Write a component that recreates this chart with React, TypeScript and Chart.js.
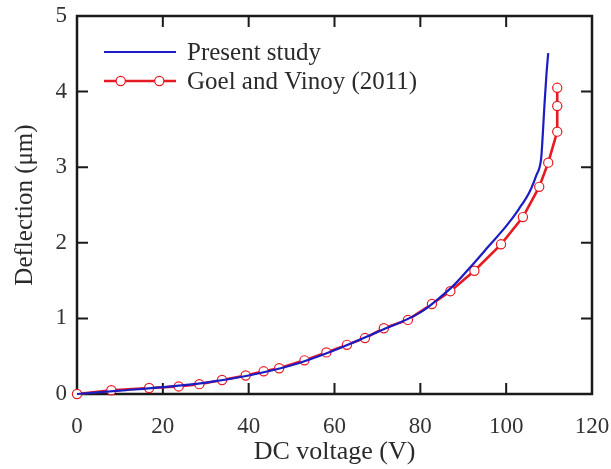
import { useEffect, useRef } from "react";
import { Chart, registerables } from "chart.js";

Chart.register(...registerables);

// Axis ticks
const voltageTicks = [0, 20, 40, 60, 80, 100, 120];
const deflectionTicks = [0, 1, 2, 3, 4, 5];

// Present study (continuous curve)
const presentVoltage = [0, 10, 20, 30, 40, 50, 60, 70, 80, 84, 88, 92, 96, 100, 103, 105.5, 107, 108.1, 108.3, 108.9, 109.4, 109.8];
const presentDeflection = [0, 0.045, 0.09, 0.15, 0.245, 0.38, 0.58, 0.82, 1.08, 1.25, 1.45, 1.7, 1.96, 2.22, 2.45, 2.68, 2.89, 3.09, 3.22, 3.8, 4.24, 4.51];

// Goel and Vinoy (2011) (markers)
const goelVoltage = [0, 8, 16.8, 23.7, 28.5, 33.8, 39.3, 43.5, 47.1, 53, 58.1, 62.9, 67.1, 71.5, 77.1, 82.7, 87, 92.6, 98.8, 103.9, 107.7, 109.8, 111.9, 111.9, 111.9];
const goelDeflection = [0, 0.05, 0.08, 0.1, 0.13, 0.185, 0.245, 0.3, 0.34, 0.445, 0.55, 0.65, 0.74, 0.87, 0.98, 1.19, 1.36, 1.63, 1.98, 2.34, 2.74, 3.06, 3.47, 3.81, 4.05];

const seriesLabels = ["Present study", "Goel and Vinoy (2011)"];
const xTitle = "DC voltage (V)";
const yTitle = "Deflection (μm)";

const SERIF = "'Liberation Serif', 'Times New Roman', serif";
const BLUE = "#1c1cc4";
const RED = "#e61a22";
const INK = "#2a2a2a";

const toPoints = (xs: number[], ys: number[]) => xs.map((v, i) => ({ x: v, y: ys[i] }));

// Box frame with inward tick marks on all four sides
const framePlugin = {
  id: "frameTicks",
  beforeDatasetsDraw(chart: any) {
    const { ctx, chartArea, scales } = chart;
    const { left, right, top, bottom } = chartArea;
    const len = 11;
    ctx.save();
    ctx.strokeStyle = "#1a1a1a";
    ctx.lineWidth = 2;
    ctx.beginPath();
    for (const v of voltageTicks) {
      const px = scales.x.getPixelForValue(v);
      if (Math.abs(px - left) < 2 || Math.abs(px - right) < 2) continue;
      ctx.moveTo(px, bottom);
      ctx.lineTo(px, bottom - len);
      ctx.moveTo(px, top);
      ctx.lineTo(px, top + len);
    }
    for (const v of deflectionTicks) {
      const py = scales.y.getPixelForValue(v);
      if (Math.abs(py - top) < 2 || Math.abs(py - bottom) < 2) continue;
      ctx.moveTo(left, py);
      ctx.lineTo(left + len, py);
      ctx.moveTo(right, py);
      ctx.lineTo(right - len, py);
    }
    ctx.stroke();
    ctx.lineWidth = 2.5;
    ctx.strokeRect(left, top, right - left, bottom - top);
    ctx.restore();
  },
};

// Legend: line sample (with two markers for the marker series) and label
const legendPlugin = {
  id: "lineLegend",
  afterDraw(chart: any) {
    const { ctx } = chart;
    const x0 = 104;
    const x1 = 176;
    const rows = [
      { y: 52, color: BLUE, markers: false, width: 2.2, text: seriesLabels[0] },
      { y: 81, color: RED, markers: true, width: 2.6, text: seriesLabels[1] },
    ];
    ctx.save();
    for (const r of rows) {
      ctx.strokeStyle = r.color;
      ctx.lineWidth = r.width;
      ctx.beginPath();
      ctx.moveTo(x0, r.y);
      ctx.lineTo(x1, r.y);
      ctx.stroke();
      if (r.markers) {
        for (const mx of [120.7, 159.3]) {
          ctx.beginPath();
          ctx.arc(mx, r.y, 4.6, 0, Math.PI * 2);
          ctx.fillStyle = "#ffffff";
          ctx.fill();
          ctx.lineWidth = 1.2;
          ctx.strokeStyle = r.color;
          ctx.stroke();
        }
      }
      ctx.fillStyle = INK;
      ctx.font = `25px ${SERIF}`;
      ctx.textAlign = "left";
      ctx.textBaseline = "middle";
      ctx.fillText(r.text, 187, r.y + 1);
    }
    ctx.restore();
  },
};

export default function App() {
  const canvasRef = useRef<HTMLCanvasElement | null>(null);

  useEffect(() => {
    document.body.style.margin = "0";
    const canvas = canvasRef.current;
    if (!canvas) return;
    const chart = new Chart(canvas, {
      type: "line",
      data: {
        datasets: [
          {
            label: seriesLabels[0],
            data: toPoints(presentVoltage, presentDeflection),
            borderColor: BLUE,
            borderWidth: 2.2,
            pointRadius: 0,
            cubicInterpolationMode: "monotone",
            fill: false,
            clip: false,
          },
          {
            label: seriesLabels[1],
            data: toPoints(goelVoltage, goelDeflection),
            borderColor: RED,
            borderWidth: 2.6,
            pointRadius: 4.6,
            pointBorderWidth: 1.2,
            pointBackgroundColor: "#ffffff",
            pointBorderColor: RED,
            tension: 0,
            fill: false,
            clip: false,
          },
        ],
      },
      options: {
        animation: false,
        responsive: false,
        devicePixelRatio: 1,
        layout: { padding: { top: 16, right: 19, left: 0, bottom: 0 } },
        plugins: { legend: { display: false }, tooltip: { enabled: false } },
        scales: {
          x: {
            type: "linear",
            min: 0,
            max: 120,
            afterBuildTicks: (s: any) => {
              s.ticks = voltageTicks.map((v) => ({ value: v }));
            },
            afterFit: (s: any) => {
              s.height = 75;
              s.paddingLeft = 0;
              s.paddingRight = 0;
            },
            grid: { display: false, drawTicks: false },
            border: { display: false },
            ticks: { color: "#333", font: { family: SERIF, size: 23 }, padding: 19, maxRotation: 0 },
            title: {
              display: true,
              text: xTitle,
              color: INK,
              font: { family: SERIF, size: 26 },
              padding: { top: 0, bottom: 1 },
            },
          },
          y: {
            type: "linear",
            min: 0,
            max: 5,
            afterBuildTicks: (s: any) => {
              s.ticks = deflectionTicks.map((v) => ({ value: v }));
            },
            afterFit: (s: any) => {
              s.width = 77;
              s.paddingTop = 0;
              s.paddingBottom = 0;
            },
            grid: { display: false, drawTicks: false },
            border: { display: false },
            ticks: { color: "#333", font: { family: SERIF, size: 23 }, padding: 10 },
            title: {
              display: true,
              text: yTitle,
              color: INK,
              font: { family: SERIF, size: 25 },
              padding: { top: 10, bottom: 0 },
            },
          },
        },
      },
      plugins: [framePlugin, legendPlugin],
    });
    return () => chart.destroy();
  }, []);

  return (
    <div style={{ width: 611, height: 469 }}>
      <canvas ref={canvasRef} width={611} height={469} />
    </div>
  );
}
